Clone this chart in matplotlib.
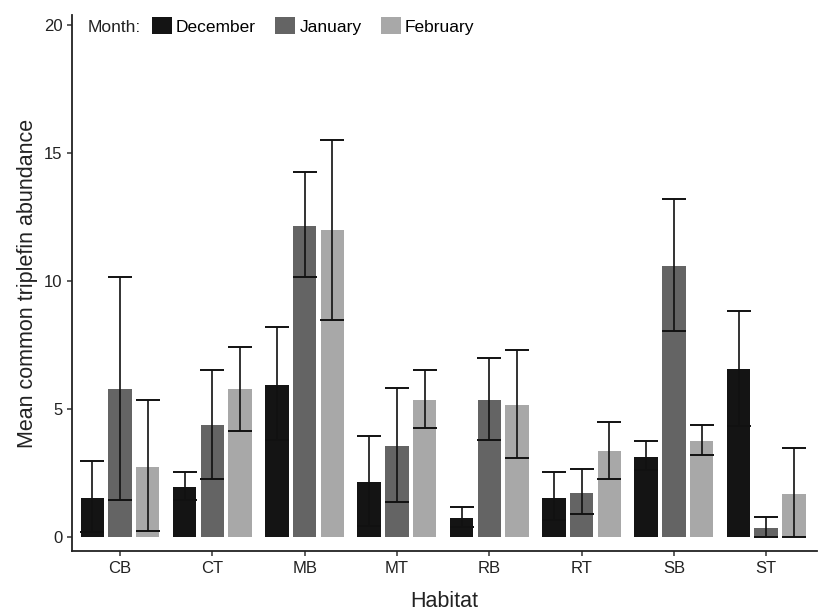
import numpy as np
import matplotlib
matplotlib.use("Agg")
import matplotlib.pyplot as plt
from matplotlib.patches import Patch

plt.rcParams["font.family"] = ["Liberation Sans", "DejaVu Sans"]

# Data
habitats = ["CB", "CT", "MB", "MT", "RB", "RT", "SB", "ST"]
months = ["December", "January", "February"]
colors = ["#141414", "#646464", "#a8a8a8"]

dec_mean = [1.54, 1.94, 5.95, 2.15, 0.74, 1.54, 3.14, 6.55]
dec_low = [0.21, 1.45, 3.79, 0.43, 0.40, 0.65, 2.62, 4.35]
dec_high = [2.96, 2.54, 8.20, 3.95, 1.16, 2.53, 3.76, 8.84]

jan_mean = [5.77, 4.36, 12.17, 3.54, 5.35, 1.73, 10.57, 0.34]
jan_low = [1.46, 2.27, 10.17, 1.37, 3.79, 0.91, 8.03, 0.00]
jan_high = [10.14, 6.52, 14.26, 5.81, 6.99, 2.64, 13.19, 0.77]

feb_mean = [2.75, 5.77, 11.99, 5.35, 5.16, 3.35, 3.75, 1.69]
feb_low = [0.22, 4.15, 8.49, 4.27, 3.10, 2.27, 3.20, 0.00]
feb_high = [5.35, 7.42, 15.52, 6.52, 7.29, 4.51, 4.38, 3.48]

means = [dec_mean, jan_mean, feb_mean]
lows = [dec_low, jan_low, feb_low]
highs = [dec_high, jan_high, feb_high]

fig = plt.figure(figsize=(8.19, 6.12), dpi=100)
ax = fig.add_axes([72 / 819, 1 - 551 / 612, (817 - 72) / 819, (551 - 15) / 612])

x = np.arange(len(habitats))
offsets = [-0.3, 0.0, 0.3]
for i in range(3):
    m = np.array(means[i])
    lo = m - np.array(lows[i])
    hi = np.array(highs[i]) - m
    ax.bar(x + offsets[i], m, width=0.255, color=colors[i], edgecolor="none", zorder=2)
    ax.errorbar(x + offsets[i], m, yerr=[lo, hi], fmt="none", ecolor="#111111",
                elinewidth=1.2, capsize=8.6, capthick=1.4, zorder=3)

ax.set_xlim(-0.52, 7.55)
ax.set_ylim(-0.55, 20.4)
ax.set_xticks(x)
ax.set_xticklabels(habitats)
ax.set_yticks([0, 5, 10, 15, 20])
ax.tick_params(axis="both", labelsize=12, color="#333333", length=3.5, width=1.1,
               labelcolor="#222222")

for side in ["top", "right"]:
    ax.spines[side].set_visible(False)
for side in ["left", "bottom"]:
    ax.spines[side].set_linewidth(1.3)
    ax.spines[side].set_color("#222222")

ax.set_xlabel("Habitat", fontsize=15.5, color="#222222", labelpad=11)
ax.set_ylabel("Mean common triplefin abundance", fontsize=15.5, color="#222222", labelpad=4)

# Legend laid out horizontally, like ggplot's top-left legend
fig.text(88 / 819, 1 - 26 / 612, "Month:", fontsize=12.5, va="center_baseline",
         ha="left", color="#222222")
handles = [Patch(facecolor=c, edgecolor="none") for c in colors]
fig.legend(handles, months, ncol=3, loc="center left",
           bbox_to_anchor=(149 / 819, 1 - 26 / 612), frameon=False, fontsize=12.5,
           handlelength=1.15, handleheight=1.15, handletextpad=0.25, columnspacing=1.1,
           borderaxespad=0, borderpad=0.15)

fig.savefig("out.png", dpi=100)
